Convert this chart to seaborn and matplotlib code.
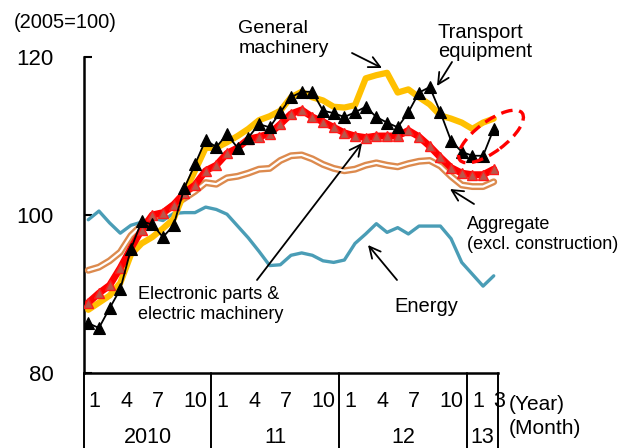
import numpy as np
import pandas as pd
import matplotlib
matplotlib.use("Agg")
import matplotlib.pyplot as plt
import seaborn as sns
from matplotlib.patches import Ellipse
from matplotlib.transforms import IdentityTransform

# ---------------- data (Jan 2010 .. Mar 2013, monthly, 2005=100) ----------------
years = ["2010", "11", "12", "13"]
year_months = [["1", "4", "7", "10"], ["1", "4", "7", "10"], ["1", "4", "7", "10"], ["1", "3"]]
year_lengths = [12, 12, 12, 3]

transport = [86.3, 85.7, 88.2, 90.6, 95.7, 99.2, 98.8, 97.2, 98.7, 103.4,
             106.4, 109.5, 108.6, 110.2, 108.5, 109.8, 111.5, 111.1, 113.0, 114.9,
             115.6, 115.6, 113.2, 112.9, 112.4, 113.0, 113.7, 112.4, 111.7, 111.1,
             113.0, 115.5, 116.2, 113.0, 109.4, 108.0, 107.5, 107.5, 110.9]
general = [88.0, 88.9, 89.8, 91.4, 95.0, 96.4, 97.2, 98.3, 99.5, 102.8,
           105.6, 108.5, 108.5, 109.2, 110.0, 110.9, 112.0, 112.5, 113.2, 114.9,
           115.6, 114.9, 114.5, 113.7, 113.6, 113.9, 117.3, 117.7, 118.0, 115.5,
           115.9, 114.9, 114.0, 112.6, 112.2, 111.7, 110.9, 111.7, 112.2]
electronic = [88.9, 90.1, 91.1, 93.3, 95.8, 98.1, 100.0, 100.3, 101.3, 102.8,
              103.8, 105.6, 106.3, 107.8, 108.5, 109.6, 109.9, 110.3, 111.5, 112.8,
              113.3, 112.4, 111.8, 111.1, 110.4, 110.0, 109.8, 110.0, 110.0, 110.0,
              110.7, 109.9, 108.7, 107.3, 106.0, 105.3, 105.1, 105.1, 105.8]
aggregate = [93.0, 93.4, 94.2, 95.3, 97.4, 98.7, 99.6, 100.2, 101.3, 102.1,
             103.0, 104.1, 103.9, 104.7, 104.9, 105.3, 105.8, 105.9, 106.9, 107.5,
             107.6, 107.1, 106.4, 105.9, 105.6, 105.8, 106.3, 106.6, 106.3, 106.1,
             106.5, 106.8, 106.9, 106.2, 104.9, 103.8, 103.6, 103.6, 104.2]
energy = [99.4, 100.5, 99.0, 97.7, 98.7, 99.1, 99.6, 99.3, 100.2, 100.3,
          100.3, 101.0, 100.7, 100.1, 98.6, 97.1, 95.4, 93.6, 93.7, 94.9,
          95.2, 94.9, 94.2, 94.0, 94.3, 96.4, 97.6, 98.9, 97.8, 98.4,
          97.6, 98.6, 98.6, 98.6, 97.0, 94.0, 92.5, 91.0, 92.3]
yticks = [80, 100, 120]

# ---------------- style ----------------
sns.set_theme(style="white")
plt.rcParams['font.family'] = ['Liberation Sans', 'DejaVu Sans']

W, H = 623, 448
fig = plt.figure(figsize=(W / 100, H / 100), dpi=100)
L, R, B, T = 84, 498, 373, 57
ax = fig.add_axes([L / W, 1 - B / H, (R - L) / W, (B - T) / H])

t = np.arange(len(transport))
df = pd.DataFrame({"t": t, "Transport": transport, "General": general,
                   "Electronic": electronic, "Aggregate": aggregate, "Energy": energy})

sns.lineplot(data=df, x="t", y="Energy", ax=ax, color="#4A9DB6", lw=2.4, zorder=2)
sns.lineplot(data=df, x="t", y="Aggregate", ax=ax, color="#DC8A4E", lw=5.0, zorder=3,
             solid_joinstyle="round", solid_capstyle="round")
sns.lineplot(data=df, x="t", y="Aggregate", ax=ax, color="white", lw=1.6, zorder=3.1)
sns.lineplot(data=df, x="t", y="General", ax=ax, color="#FFC000", lw=4.5, zorder=4)
sns.lineplot(data=df, x="t", y="Electronic", ax=ax, color="#FF0000", lw=5.0, zorder=5,
             marker="^", markersize=7.5, markerfacecolor="#B9574B",
             markeredgecolor="#FF1A1A", markeredgewidth=1.0)
sns.lineplot(data=df, x="t", y="Transport", ax=ax, color="black", lw=1.3, zorder=6,
             marker="^", markersize=9, markerfacecolor="black",
             markeredgecolor="black", markeredgewidth=0.8)

ax.set_xlim(-0.4, 38.4)
ax.set_ylim(80, 120)
ax.set_yticks(yticks)
ax.set_yticklabels([str(v) for v in yticks])
ax.set_xticks([])
ax.set_xlabel("")
ax.set_ylabel("")
for s in ["top", "right"]:
    ax.spines[s].set_visible(False)
for s in ["left", "bottom"]:
    ax.spines[s].set_color("black")
    ax.spines[s].set_linewidth(1.8)
ax.tick_params(axis="y", left=True, direction="in", length=6, width=1.5,
               pad=22, labelsize=16, colors="black")
ax.grid(False)

# ---------------- bottom table (months / years) ----------------
x0, x1 = ax.get_xlim()
starts = np.cumsum([0] + year_lengths[:-1])
bounds = [x0] + [s - 0.5 for s in starts[1:]] + [x1]
xt = ax.get_xaxis_transform()
for b in bounds:
    ax.plot([b, b], [0, -0.3], transform=xt, clip_on=False, color="black", lw=1.4)

def fpx(x, y):
    return x / W, 1 - y / H

month_base_y = 406.5
year_base_y = 443.0
ax_h = B - T
for yi, (st, months) in enumerate(zip(starts, year_months)):
    for m in months:
        xm = st + int(m) - 1 + 0.55 + (0.5 if len(m) == 2 else 0.0)
        ax.text(xm, -(month_base_y - B) / ax_h, m, transform=xt, ha="center",
                va="baseline", fontsize=15.5, color="black", clip_on=False)
    xc = (bounds[yi] + bounds[yi + 1]) / 2
    ax.text(xc, -(year_base_y - B) / ax_h, years[yi], transform=xt, ha="center",
            va="baseline", fontsize=15.5, color="black", clip_on=False)

# ---------------- texts ----------------
def put(s, x, y, size):
    fig.text(*fpx(x, y), s, ha="left", va="baseline", fontsize=size, color="black")

put("(2005=100)", 14, 28.5, 14.5)
put("General", 238, 33, 14)
put("machinery", 239, 53, 14)
put("Transport", 438, 38.5, 14.5)
put("equipment", 438, 57, 14.5)
put("Aggregate", 467, 228.5, 13)
put("(excl. construction)", 467, 248.5, 13)
put("Energy", 394, 311.5, 14.5)
put("Electronic parts &", 138, 299, 13)
put("electric machinery", 138, 319, 13)
put("(Year)", 509, 410, 15)
put("(Month)", 509, 433.5, 15)

# ---------------- arrows ----------------
def arrow(xs, ys, xe, ye):
    ax.annotate("", xy=fpx(xe, ye), xytext=fpx(xs, ys), xycoords="figure fraction",
                textcoords="figure fraction",
                arrowprops=dict(arrowstyle="->", lw=1.3, color="black",
                                mutation_scale=20, shrinkA=0, shrinkB=0))

arrow(352, 53, 382, 68)
arrow(452, 62, 437, 86)
arrow(474, 204, 450, 189)
arrow(397, 280, 368, 245)
arrow(257, 280, 362, 143)

# ---------------- dashed ellipse ----------------
ell = Ellipse((491, H - 136.5), width=78, height=30, angle=37,
              transform=IdentityTransform(), fill=False, edgecolor="#FF0000",
              lw=2.4, linestyle=(0, (3.5, 2)), clip_on=False, zorder=7)
fig.add_artist(ell)

fig.savefig("out.png", dpi=100)
